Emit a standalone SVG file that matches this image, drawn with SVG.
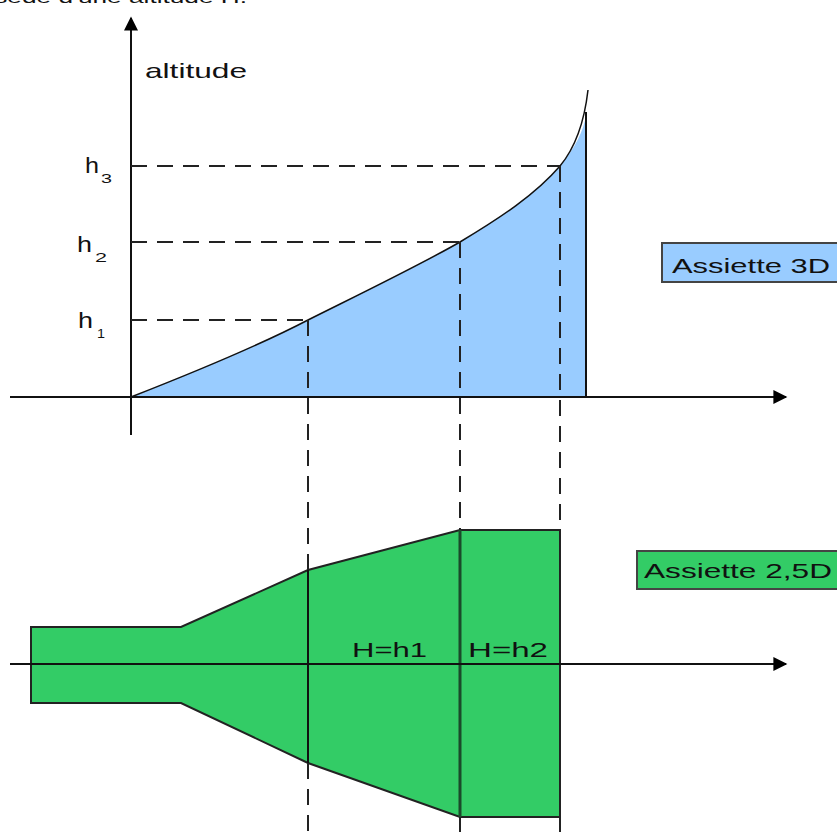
<svg xmlns="http://www.w3.org/2000/svg" width="837" height="832" viewBox="0 0 837 832">
<style>
.t{font-family:"Liberation Sans",Arial,sans-serif;fill:#111}
.ax{stroke:#111;stroke-width:2;fill:none}
.dash{stroke:#222;stroke-width:2;stroke-dasharray:16,10;fill:none}
.thin{stroke:#111;stroke-width:1.5;fill:none}
</style>
<defs>
<marker id="ar" viewBox="0 0 10 10" refX="9" refY="5" markerWidth="22" markerHeight="14" markerUnits="userSpaceOnUse" orient="auto">
<path d="M0,0 L10,5 L0,10 z" fill="#000"/>
</marker>
</defs>
<rect width="837" height="832" fill="#fff"/>
<text class="t" x="-48" y="3" font-size="17" textLength="295" lengthAdjust="spacingAndGlyphs">possède d'une altitude H.</text>

<g id="area3d">
<path d="M131,397 C200,370 260,345 308,320 C360,294 420,265 460,242 C500,218 535,195 560,166 C575,148 584,130 586,115 L586,397 Z" fill="#99ccff"/>
<path d="M131,397 C200,370 260,345 308,320 C360,294 420,265 460,242 C500,218 535,195 560,166 C575,148 584,125 588,90" class="thin"/>
<line x1="586" y1="112" x2="586" y2="397" class="ax" stroke-width="2.5"/>
</g>

<g id="shape25d">
<polygon points="31,627 181,627 308,570 460,530 560,530 560,817 460,817 308,763 181,703 31,703" fill="#33cc66" stroke="#222" stroke-width="2"/>
<line x1="308" y1="570" x2="308" y2="763" stroke="#111" stroke-width="2"/>
<line x1="460" y1="530" x2="460" y2="817" stroke="#1a4a2a" stroke-width="3"/>
<text class="t" x="352" y="657" font-size="21" textLength="75" lengthAdjust="spacingAndGlyphs">H=h1</text>
<text class="t" x="468" y="657" font-size="21" textLength="80" lengthAdjust="spacingAndGlyphs">H=h2</text>
</g>

<g id="connectors">
<line x1="131" y1="435" x2="131" y2="18" class="ax" marker-end="url(#ar)"/>
<line x1="10" y1="397" x2="786" y2="397" class="ax" marker-end="url(#ar)"/>
<line x1="10" y1="664" x2="786" y2="664" class="ax" stroke-width="1.5" marker-end="url(#ar)"/>
<line x1="131" y1="320" x2="308" y2="320" class="dash" stroke-dasharray="19,10,16,10"/>
<line x1="131" y1="242" x2="460" y2="242" class="dash" stroke-dasharray="19,10,16,10"/>
<line x1="131" y1="166" x2="560" y2="166" class="dash" stroke-dasharray="19,10,16,10"/>
<line x1="308" y1="320" x2="308" y2="570" class="dash"/>
<line x1="460" y1="242" x2="460" y2="530" class="dash"/>
<line x1="560" y1="166" x2="560" y2="530" class="dash"/>
<line x1="308" y1="763" x2="308" y2="832" class="dash"/>
<line x1="460" y1="817" x2="460" y2="832" class="dash" stroke-dasharray="0,11,10"/>
<line x1="560" y1="817" x2="560" y2="832" class="dash" stroke-dasharray="0,11,10"/>
</g>

<g id="labels">
<text class="t" x="145" y="78" font-size="21" textLength="102" lengthAdjust="spacingAndGlyphs">altitude</text>
<text class="t" x="85" y="173" font-size="22" textLength="14" lengthAdjust="spacingAndGlyphs">h</text>
<text class="t" x="101" y="183" font-size="12" textLength="11" lengthAdjust="spacingAndGlyphs">3</text>
<text class="t" x="77" y="252" font-size="22" textLength="15" lengthAdjust="spacingAndGlyphs">h</text>
<text class="t" x="95" y="262" font-size="12" textLength="12" lengthAdjust="spacingAndGlyphs">2</text>
<text class="t" x="78" y="328" font-size="22" textLength="15" lengthAdjust="spacingAndGlyphs">h</text>
<text class="t" x="97" y="338" font-size="12" textLength="8" lengthAdjust="spacingAndGlyphs">1</text>
</g>

<g id="assiette3d">
<rect x="662" y="243" width="180" height="39" fill="#99ccff" stroke="#444" stroke-width="2"/>
<text class="t" x="672" y="273" font-size="21" textLength="158" lengthAdjust="spacingAndGlyphs">Assiette 3D</text>
</g>
<g id="assiette25d">
<rect x="637" y="551" width="206" height="38" fill="#33cc66" stroke="#444" stroke-width="2"/>
<text class="t" x="644" y="578" font-size="21" textLength="188" lengthAdjust="spacingAndGlyphs">Assiette 2,5D</text>
</g>
</svg>
